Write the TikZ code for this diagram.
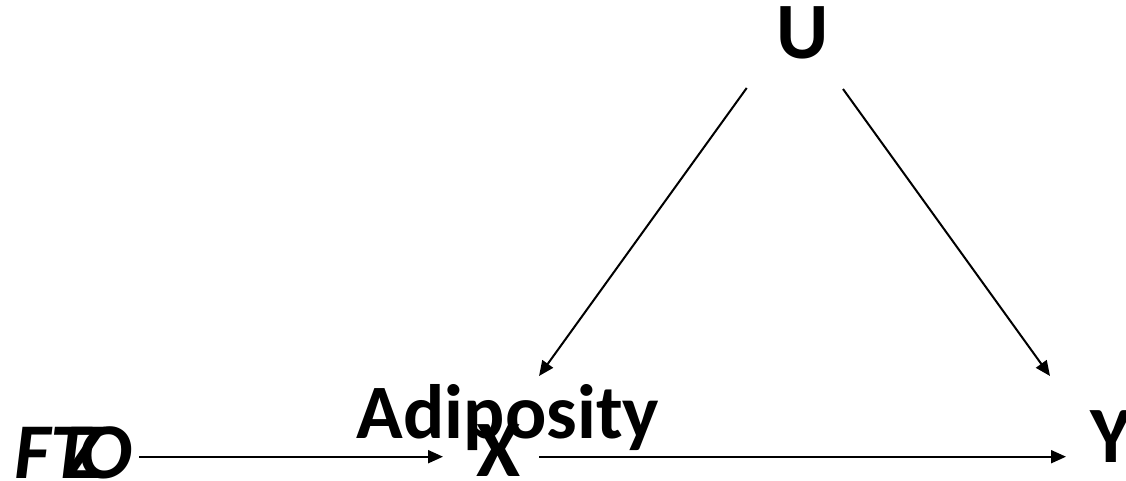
\documentclass[tikz,border=0pt]{standalone}
\usepackage{fontspec}
\setmainfont{Carlito}
\usetikzlibrary{arrows.meta}
\begin{document}
\begin{tikzpicture}[x=1pt,y=-1pt,
  lbl/.style={inner sep=0pt, font=\fontsize{80}{82}\selectfont\bfseries},
  arr/.style={line width=2pt, -{Triangle[length=15pt,width=13pt]}}]
\useasboundingbox (0,0) rectangle (1126,480);
\node[lbl, anchor=base] (u) at (803,58) {U};
\node[lbl, anchor=base, font=\fontsize{77}{79}\selectfont\bfseries] (adip) at (508,438) {Adiposity};
\node[lbl, anchor=base] (x) at (499,476) {X};
\node[lbl, anchor=base west] (y) at (1090,462) {Y};
\node[lbl, anchor=base west, font=\fontsize{79}{81}\selectfont\bfseries\itshape] (fto) at (14,478) {FT\kern-0.32em Z\kern-0.28em O};
\coordinate (fto-out) at (139,456.7);
\coordinate (x-in) at (443,456.7);
\coordinate (x-out) at (539,456.7);
\coordinate (y-in) at (1066,456.7);
\coordinate (u-l) at (746.7,88);
\coordinate (x-top) at (539,376);
\coordinate (u-r) at (843,89);
\coordinate (y-top) at (1050,376);
\draw[arr] (fto-out) -- (x-in);
\draw[arr] (x-out) -- (y-in);
\draw[arr] (u-l) -- (x-top);
\draw[arr] (u-r) -- (y-top);
\end{tikzpicture}
\end{document}
